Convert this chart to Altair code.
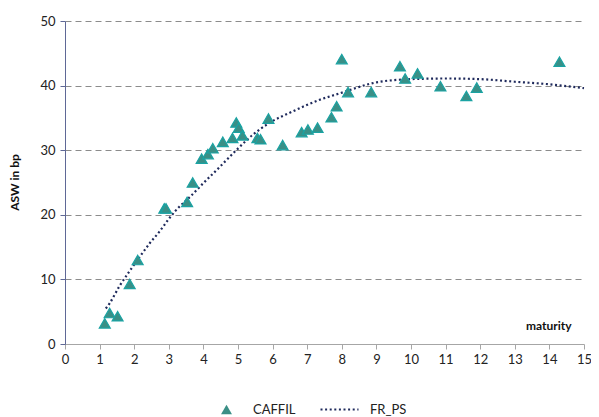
import altair as alt
import pandas as pd

caffil_x = [1.15, 1.29, 1.52, 1.87, 2.10, 2.87, 2.92, 3.53, 3.69, 3.95, 4.13, 4.27,
            4.56, 4.84, 4.95, 5.02, 5.13, 5.56, 5.65, 5.88, 6.29, 6.84, 7.02, 7.30,
            7.70, 7.85, 8.00, 8.18, 8.85, 9.68, 9.83, 10.19, 10.85, 11.60, 11.90, 14.29]
caffil_y = [3.2, 4.8, 4.3, 9.3, 13.0, 21.0, 21.0, 22.0, 25.0, 28.7, 29.4, 30.3,
            31.3, 31.9, 34.3, 33.5, 32.3, 31.9, 31.7, 34.9, 30.8, 32.8, 33.2, 33.5,
            35.1, 36.8, 44.1, 39.0, 39.0, 43.0, 41.1, 41.9, 39.9, 38.4, 39.7, 43.7]

fr_x = [1.18, 1.29, 1.58, 1.87, 2.16, 2.45, 2.73, 3.02, 3.31, 3.52, 4.0, 4.47, 4.95,
        5.43, 5.9, 6.58, 7.36, 7.94, 9.0, 10.0, 11.0, 12.0, 13.0, 14.0, 15.0]
fr_y = [5.5, 6.3, 9.0, 11.3, 13.5, 15.6, 17.4, 19.5, 21.3, 22.3, 24.9, 27.4, 30.0,
        32.4, 34.2, 36.0, 37.8, 38.8, 40.5, 41.0, 41.1, 41.0, 40.6, 40.2, 39.6]

x_ticks = list(range(0, 16))
y_ticks = [0, 10, 20, 30, 40, 50]

pts = pd.DataFrame({"x": caffil_x, "y": caffil_y, "s": "CAFFIL"})
fit = pd.DataFrame({"x": fr_x, "y": fr_y, "s": "FR_PS"})

FONT = "Lato"


def xenc():
    return alt.X("x:Q", scale=alt.Scale(domain=[0, 15], nice=False),
                 axis=alt.Axis(values=x_ticks, tickCount=16, title="maturity", grid=False,
                               labelOverlap=False, labelFlush=False,
                               domainColor="#A6A6A6", tickColor="#A6A6A6", tickSize=5,
                               labelFontSize=13, labelColor="#222222", labelPadding=4,
                               titleFontSize=12, titleFontWeight="bold", titleColor="#111111",
                               titleAlign="right", titleBaseline="bottom",
                               titleX=506, titleY=-12))


def yenc():
    return alt.Y("y:Q", scale=alt.Scale(domain=[0, 50], nice=False),
                 axis=alt.Axis(values=y_ticks, title="ASW in bp", grid=True, labelOverlap=False,
                               labelFlush=False,
                               gridDash=[6, 4], gridColor="#8C8C8C", gridWidth=1,
                               domainColor="#5F6896", tickColor="#5F6896", tickSize=5,
                               labelFontSize=13, labelColor="#222222", labelPadding=5,
                               titleFontSize=12, titleFontWeight="bold", titleColor="#111111",
                               titleX=-44, titleY=161))


points = alt.Chart(pts).mark_point(
    filled=True, fill="#3A8F86", stroke="#1AA3A3", strokeWidth=1.2, opacity=1, size=120
).encode(
    x=xenc(), y=yenc(),
    shape=alt.Shape("s:N", scale=alt.Scale(domain=["CAFFIL"], range=["triangle-up"]),
                    legend=alt.Legend(title=None, orient="none", legendX=155, legendY=382,
                                      labelFontSize=13, labelFont=FONT, labelColor="#222222",
                                      symbolFillColor="#3A8F86", symbolStrokeColor="#1AA3A3",
                                      symbolSize=120, labelOffset=20, padding=0)),
)

line = alt.Chart(fit).mark_line(
    color="#1F2A5C", strokeWidth=2.2, strokeDash=[2, 2.6], interpolate="monotone"
).encode(
    x=xenc(), y=yenc(),
    strokeDash=alt.StrokeDash("s:N", scale=alt.Scale(domain=["FR_PS"], range=[[2, 2.6]]),
                              legend=alt.Legend(title=None, orient="none", legendX=268, legendY=382,
                                                labelFontSize=13, labelFont=FONT, labelColor="#222222",
                                                symbolType="M-3.8,0H3.8", symbolSize=100,
                                                symbolStrokeColor="#1F2A5C", symbolStrokeWidth=2,
                                                symbolDash=[2, 2.6],
                                                labelOffset=24, padding=0)),
)

chart = alt.layer(line, points).resolve_legend(shape="independent", strokeDash="independent").properties(
    width=519, height=323,
    autosize=alt.AutoSizeParams(type="none"),
    padding={"left": 57, "top": 13, "right": 7, "bottom": 72},
).configure(font=FONT).configure_view(stroke=None)

chart.save("out.html", embed_options={"renderer": "svg", "actions": False})
